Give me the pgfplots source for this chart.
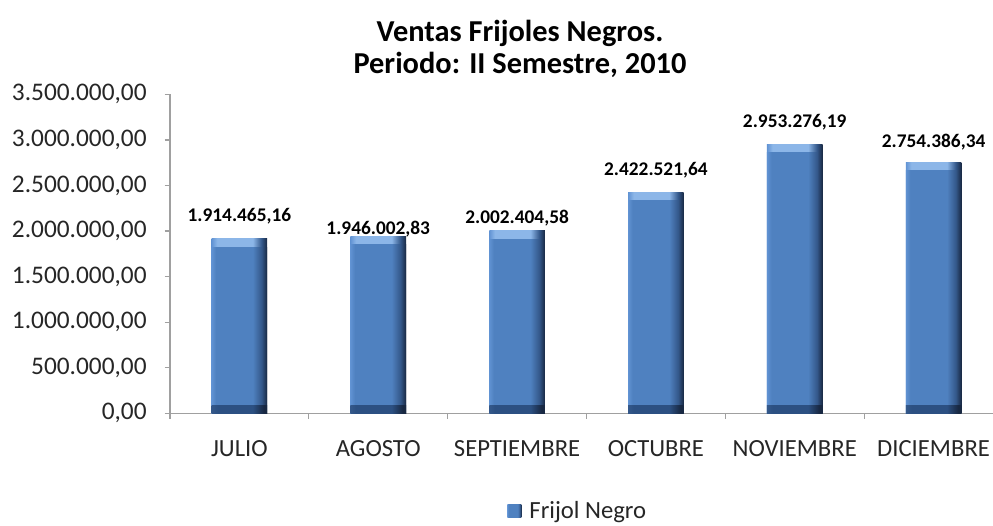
\documentclass[border=0pt]{standalone}
\usepackage{pgfplots}
\pgfplotsset{compat=1.18}
\usepackage{pgfplotstable}
\usepackage{fontspec}
\setmainfont{Carlito}

\definecolor{fl}{RGB}{96,146,210}
\definecolor{fm}{RGB}{79,129,192}
\definecolor{fd}{RGB}{52,88,138}
\definecolor{fe}{RGB}{24,40,66}
\definecolor{tl}{RGB}{140,182,232}
\definecolor{tm}{RGB}{98,148,212}
\definecolor{bb}{RGB}{44,80,130}
\definecolor{axgray}{RGB}{160,160,160}

\pgfdeclarehorizontalshading{barface}{100bp}{color(0bp)=(fl); color(25bp)=(fl); color(29bp)=(fm); color(62bp)=(fm); color(70bp)=(fd); color(75bp)=(fe); color(100bp)=(fe)}
\pgfdeclarehorizontalshading{barbottom}{100bp}{color(0bp)=(fd); color(25bp)=(fd); color(30bp)=(bb); color(62bp)=(bb); color(72bp)=(fe); color(75bp)=(fe); color(100bp)=(fe)}
\pgfdeclarehorizontalshading{bartop}{100bp}{color(0bp)=(tm); color(25bp)=(tm); color(30bp)=(tl); color(62bp)=(tl); color(70bp)=(fd); color(75bp)=(fe); color(100bp)=(fe)}

\pgfplotstableread{
x v          face        bev
0 1914465.16 1824465.16  90000
1 1946002.83 1856002.83  90000
2 2002404.58 1912404.58  90000
3 2422521.64 2332521.64  90000
4 2953276.19 2863276.19  90000
5 2754386.34 2664386.34  90000
}\sales

\pgfplotstableread{
x ly      lab
0 2165000 1.914.465,16
1 2022000 1.946.002,83
2 2143000 2.002.404,58
3 2670000 2.422.521,64
4 3197000 2.953.276,19
5 2981000 2.754.386,34
}\labels

\begin{document}
\begin{tikzpicture}
\begin{axis}[
  scale only axis,
  width=624.75pt, height=239.2pt,
  xmin=-0.5, xmax=5.5, ymin=0, ymax=3500000,
  axis lines*=left,
  axis line style={-, draw=axgray, line width=0.9pt},
  tick align=outside,
  major tick length=4pt,
  tick style={draw=axgray, line width=0.9pt},
  xtick={-0.5,0.5,1.5,2.5,3.5,4.5,5.5},
  xticklabels={},
  extra x ticks={0,1,2,3,4,5},
  extra x tick labels={JULIO,AGOSTO,SEPTIEMBRE,OCTUBRE,NOVIEMBRE,DICIEMBRE},
  extra x tick style={major tick length=0pt, tick label style={yshift=-17pt}},
  ytick={0,500000,1000000,1500000,2000000,2500000,3000000,3500000},
  yticklabels={{0,00},{500.000,00},{1.000.000,00},{1.500.000,00},{2.000.000,00},{2.500.000,00},{3.000.000,00},{3.500.000,00}},
  scaled y ticks=false,
  yticklabel style={xshift=-10pt, font=\fontsize{19}{20}\selectfont},
  tick label style={font=\fontsize{18.5}{20}\selectfont, text=black!85},
  clip=false,
  title={Ventas Frijoles Negros.\\Periodo: II Semestre, 2010},
  title style={at={(0.4202,1.118)}, anchor=center, align=center,
    font=\bfseries\fontsize{22.8}{23.5}\selectfont},
  legend style={at={(0.490,-0.306)}, anchor=center, draw=none,
    font=\fontsize{18.5}{20}\selectfont, text=black!85},
  legend image code/.code={\path[shading=barface, shade] (-4pt,-5pt) rectangle (6.5pt,5pt);},
]
\pgfplotsinvokeforeach{0,1,2,3,4,5}{
  \addplot[ybar, bar width=0.4, bar shift=0pt, draw=none, shading=bartop, shade, forget plot,
    restrict x to domain=#1:#1]
    table[x=x, y=v] {\sales};
  \addplot[ybar, bar width=0.4, bar shift=0pt, draw=none, shading=barface, shade, forget plot,
    restrict x to domain=#1:#1]
    table[x=x, y=face] {\sales};
  \addplot[ybar, bar width=0.4, bar shift=0pt, draw=none, shading=barbottom, shade, forget plot,
    restrict x to domain=#1:#1]
    table[x=x, y=bev] {\sales};
}
\addlegendimage{draw=none, shading=barface, shade}
\addlegendentry{\hspace{4pt}Frijol Negro}
\addplot[draw=none, mark=none, forget plot, point meta=explicit symbolic,
  nodes near coords,
  nodes near coords style={anchor=center, font=\bfseries\fontsize{14.5}{16}\selectfont, text=black}]
  table[x=x, y=ly, meta=lab] {\labels};
\end{axis}
\pgfresetboundingbox
\useasboundingbox (-127.5pt,-83.8pt) rectangle (617.25pt,310pt);
\end{tikzpicture}
\end{document}
